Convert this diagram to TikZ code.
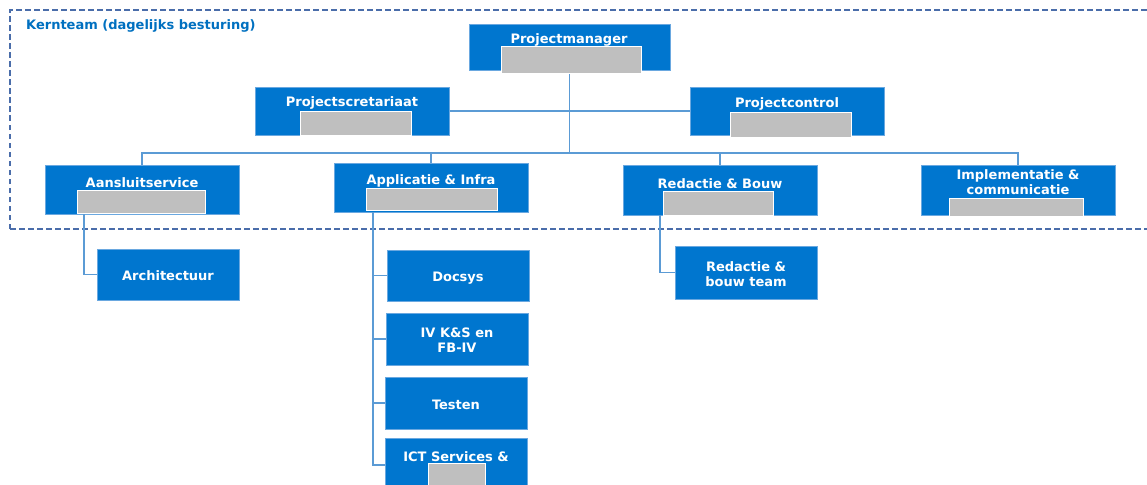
\documentclass[tikz,border=0pt]{standalone}
\usepackage{fontspec}
\setmainfont{DejaVu Sans}
\definecolor{boxblue}{HTML}{0076CF}
\definecolor{boxedge}{HTML}{6AA8E0}
\definecolor{linecol}{HTML}{5B9BD5}
\definecolor{dashcol}{HTML}{4A6DAA}
\definecolor{titlecol}{HTML}{0070C0}
\definecolor{redgray}{HTML}{BFBFBF}
\begin{document}
\begin{tikzpicture}[x=1pt,y=-1pt,
  orgbox/.style={draw=boxedge, fill=boxblue, line width=0.8pt, inner sep=0pt},
  big/.style={orgbox, minimum width=194pt, minimum height=49pt},
  small/.style={orgbox, minimum width=142pt, minimum height=51pt},
  lbl/.style={text=white, font=\bfseries\fontsize{13}{15}\selectfont, align=center, inner sep=0pt},
  redact/.style={fill=redgray, draw=white, line width=0.5pt},
  conn/.style={draw=linecol, line width=1.2pt}]
\useasboundingbox (0,0) rectangle (1147,484);
% dashed frame
\draw[dashcol, line width=1.6pt, dash pattern=on 5.5pt off 3.5pt] (10,229) -- (10,10) -- (1160,10);
\draw[dashcol, line width=1.6pt, dash pattern=on 5.5pt off 3.5pt] (10,229) -- (1160,229);
\node[anchor=west, text=titlecol, font=\bfseries\fontsize{13}{15}\selectfont, inner sep=0pt] (title) at (26,26) {Kernteam (dagelijks besturing)};

% boxes
\node[orgbox, minimum width=201pt, minimum height=46pt] (pm) at (569.5,47) {};
\node[big, minimum height=48pt] (sec) at (352.5,111) {};
\node[big, minimum height=48pt] (ctrl) at (787,111) {};
\node[big] (aans) at (142,189.5) {};
\node[big] (app) at (431,187.5) {};
\node[big, minimum height=50pt] (red) at (720,190) {};
\node[big, minimum height=50pt] (impl) at (1018,190) {};
\node[small] (arch) at (168,274.5) {};
\node[small] (docsys) at (458,275.5) {};
\node[small, minimum height=52pt] (iv) at (457,339) {};
\node[small, minimum height=52pt] (testen) at (456,403) {};
\node[small, minimum height=54pt] (ict) at (456,465) {};
\node[small, minimum height=53pt] (rbt) at (746,272.5) {};

% connectors
\coordinate (bus) at (570,153);
\coordinate (pmdrop) at ([yshift=6pt]pm.south);
\draw[conn] (pmdrop) -- (pmdrop |- bus);
\draw[conn] (sec.east) -- (ctrl.west);
\draw[conn] (aans.north) -- (aans.north |- bus) -- (impl.north |- bus) -- (impl.north);
\draw[conn] (app.north) -- (app.north |- bus);
\draw[conn] (red.north) -- (red.north |- bus);
\coordinate (aansdrop) at ([xshift=-58pt]aans.south);
\draw[conn] (aansdrop) |- (arch.west);
\coordinate (appdrop) at ([xshift=-58pt]app.south);
\draw[conn] (appdrop) |- (ict.west);
\draw[conn] (appdrop |- docsys.west) -- (docsys.west);
\draw[conn] (appdrop |- iv.west) -- (iv.west);
\draw[conn] (appdrop |- testen.west) -- (testen.west);
\coordinate (reddrop) at ([xshift=-60pt]red.south);
\draw[conn] (reddrop) |- (rbt.west);

% labels
\node[lbl] (tpm) at (569,40) {Projectmanager};
\node[lbl] (tsec) at (352,103) {Projectscretariaat};
\node[lbl] (tctrl) at (787,103.5) {Projectcontrol};
\node[lbl] (taans) at (142,182.5) {Aansluitservice};
\node[lbl] (tapp) at (431,180.5) {Applicatie \& Infra};
\node[lbl] (tred) at (720,183.5) {Redactie \& Bouw};
\node[lbl] (timpl) at (1018,182.5) {Implementatie \&\\communicatie};
\node[lbl] (tarch) at (168,276) {Architectuur};
\node[lbl] (tdoc) at (458,278) {Docsys};
\node[lbl] (tiv) at (457,340) {IV K\&S en\\FB-IV};
\node[lbl] (ttest) at (456,405) {Testen};
\node[lbl] (trbt) at (746,274) {Redactie \&\\bouw team};
\node[lbl] (tict) at (456,456.5) {ICT Services \&};

% redaction blocks
\fill[redact] (501,46) rectangle (641,73);
\fill[redact] (300,111) rectangle (411,135);
\fill[redact] (730,112) rectangle (851,137);
\fill[redact] (77,190) rectangle (205,213);
\fill[redact] (366,188) rectangle (497,210);
\fill[redact] (663,191) rectangle (773,215);
\fill[redact] (949,198) rectangle (1083,216);
\fill[redact] (428,463) rectangle (485,486);
\end{tikzpicture}
\end{document}
